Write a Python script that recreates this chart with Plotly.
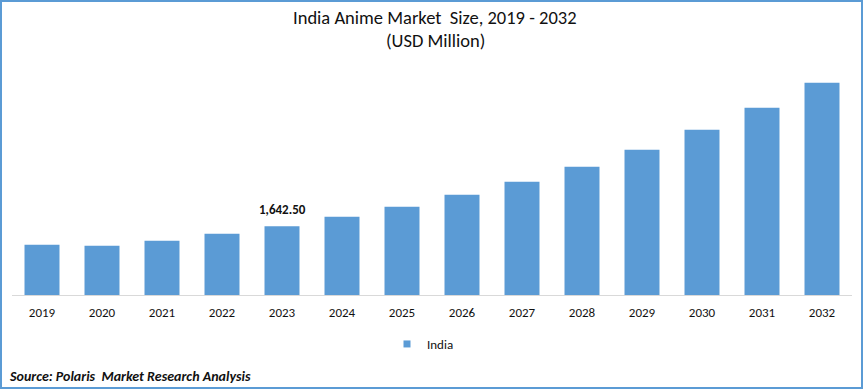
import plotly.graph_objects as go

years = ["2019", "2020", "2021", "2022", "2023", "2024", "2025", "2026",
         "2027", "2028", "2029", "2030", "2031", "2032"]
india = [1200, 1178, 1298, 1465, 1642.5, 1871, 2110, 2397,
         2708, 3066, 3473, 3951, 4476, 5074]
label_year = "2023"
label_text = "1,642.50"

W, H = 863, 389
ML, MR, MT, MB = 12, 11, 60, 94
PW, PH = W - ML - MR, H - MT - MB
BLUE = "#5B9BD5"
FONT = "Carlito, Lato, sans-serif"
INK = "#111111"

def px_x(px):
    return (px - ML) / PW

def px_y(py):
    return (H - MB - py) / PH

fig = go.Figure()
fig.add_trace(go.Bar(x=years, y=india, name="India", marker=dict(color=BLUE, line=dict(width=0)),
                     width=0.583, showlegend=False))
fig.add_trace(go.Scatter(x=[None], y=[None], mode="markers", name="India", showlegend=True,
                         marker=dict(symbol="square", size=7, color=BLUE, line=dict(width=0))))

li = years.index(label_year)
fig.add_annotation(x=li, y=india[li], text="<b>" + label_text + "</b>",
                   showarrow=False, yanchor="middle", yshift=17,
                   font=dict(family=FONT, size=13, color=INK))

fig.add_annotation(xref="paper", yref="paper", x=px_x(435), y=px_y(17),
                   text="India Anime Market  Size, 2019 - 2032", showarrow=False,
                   xanchor="center", yanchor="middle",
                   font=dict(family=FONT, size=18.5, color=INK))
fig.add_annotation(xref="paper", yref="paper", x=px_x(435), y=px_y(40),
                   text="(USD Million)", showarrow=False,
                   xanchor="center", yanchor="middle",
                   font=dict(family=FONT, size=18.5, color=INK))
fig.add_annotation(xref="paper", yref="paper", x=px_x(7), y=px_y(376),
                   text="<b><i>Source: Polaris  Market Research Analysis</i></b>",
                   showarrow=False, xanchor="left", yanchor="middle",
                   font=dict(family=FONT, size=14, color=INK))

fig.add_shape(type="rect", xref="paper", yref="paper",
              x0=px_x(1), x1=px_x(862), y0=px_y(388), y1=px_y(1),
              line=dict(color=BLUE, width=2), fillcolor="rgba(0,0,0,0)")

fig.update_layout(
    width=W, height=H,
    margin=dict(l=ML, r=MR, t=MT, b=MB),
    paper_bgcolor="white", plot_bgcolor="white",
    showlegend=True,
    legend=dict(orientation="h", x=px_x(387), y=px_y(344), xanchor="left", yanchor="middle",
                font=dict(family=FONT, size=13, color=INK),
                bgcolor="rgba(0,0,0,0)", itemwidth=30),
    xaxis=dict(type="category", categoryorder="array", categoryarray=years,
               range=[-0.5, len(years) - 0.5], autorange=False,
               showline=True, linecolor="#D9D9D9", linewidth=1, ticks="",
               ticklabelstandoff=5,
               tickfont=dict(family=FONT, size=13, color=INK),
               showgrid=False, zeroline=False),
    yaxis=dict(range=[0, PH * 23.9], autorange=False, visible=False, showgrid=False, zeroline=False),
)

fig.write_html("out.html", config={"displayModeBar": False},
               post_script="document.body.style.margin='0';document.body.style.overflow='hidden';")
